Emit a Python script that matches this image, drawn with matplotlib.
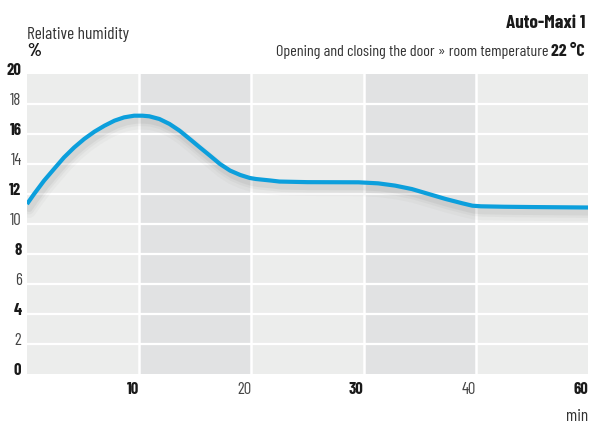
import numpy as np
import matplotlib
matplotlib.use("Agg")
import matplotlib.pyplot as plt
import matplotlib.transforms as mtransforms

# ---- data ----
minutes = [0, 0.63, 1.52, 2.41, 3.3, 4.2, 5.1, 6.0, 6.9, 7.8, 8.66, 9.55, 10.3,
           10.9, 11.8, 12.7, 13.6, 14.5, 15.4, 16.3, 17.2, 18.1, 19.0, 19.85,
           20.4, 21.7, 22.5, 25, 29.55, 31.3, 32.8, 34.3, 35.8, 37.3, 38.8,
           39.7, 40.9, 45, 50, 60]
humidity = [11.33, 12.0, 12.89, 13.67, 14.44, 15.1, 15.67, 16.15, 16.55, 16.89,
            17.11, 17.22, 17.22, 17.18, 17.0, 16.67, 16.22, 15.67, 15.11, 14.56,
            14.0, 13.56, 13.27, 13.07, 13.0, 12.9, 12.83, 12.79, 12.78, 12.71,
            12.56, 12.33, 12.0, 11.67, 11.38, 11.22, 11.18, 11.15, 11.13, 11.1]
x_tick_minutes = [0, 10, 20, 30, 40, 60]
x_tick_labels = ["", "10", "20", "30", "40", "60"]
x_tick_bold = [False, True, False, True, False, True]
y_ticks = [0, 2, 4, 6, 8, 10, 12, 14, 16, 18, 20]
y_tick_bold = [True, False, True, False, True, False, True, False, True, False, True]
shaded_bands = [(10, 20), (30, 40)]

FONT = ["Barlow Condensed", "DejaVu Sans"]
plt.rcParams["font.family"] = FONT
BOLD = "bold"

positions = list(range(len(x_tick_minutes)))
def xpos(m):
    return np.interp(m, x_tick_minutes, positions)

W, H = 590, 427
fig = plt.figure(figsize=(W / 100, H / 100), dpi=100)
ax = fig.add_axes([27 / W, 1 - 375 / H, (588 - 27) / W, 300 / H])
ax.set_facecolor("#ecedec")
for a, b in shaded_bands:
    ax.axvspan(xpos(a), xpos(b), color="#e1e2e3", lw=0, zorder=0)

ax.set_xlim(0, positions[-1])
ax.set_ylim(0, 20)
for s in ax.spines.values():
    s.set_visible(False)

for y in y_ticks[1:-1]:
    ax.axhline(y, color="white", lw=1.6, zorder=1)
for m in x_tick_minutes[1:-1]:
    ax.axvline(xpos(m), color="white", lw=1.8, zorder=1)

xs = xpos(minutes)
# soft shadow under the curve
for dy, lw, al in [(-5, 10, 0.035), (-4, 7, 0.05), (-3.5, 4.5, 0.07)]:
    tr = mtransforms.offset_copy(ax.transData, fig=fig, x=1.5, y=dy, units="points")
    ax.plot(xs, humidity, color="#555555", lw=lw, alpha=al, transform=tr,
            solid_capstyle="round", solid_joinstyle="round", zorder=2)
ax.plot(xs, humidity, color="#0c9fdc", lw=3.0, solid_capstyle="butt",
        solid_joinstyle="round", zorder=3)

# ticks
ax.set_yticks(y_ticks)
ax.set_yticklabels([str(v) for v in y_ticks])
for lab, b in zip(ax.get_yticklabels(), y_tick_bold):
    lab.set_fontweight(BOLD if b else "normal")
    lab.set_va("baseline")
    lab.set_color("#1a1a1a" if b else "#444444")
    lab.set_transform(lab.get_transform() + mtransforms.ScaledTranslation(0, 2 / 100, fig.dpi_scale_trans))
ax.tick_params(axis="y", length=0, pad=4, labelsize=12)

ax.set_xticks(positions)
ax.set_xticklabels(x_tick_labels)
for lab, b in zip(ax.get_xticklabels(), x_tick_bold):
    lab.set_fontweight(BOLD if b else "normal")
    lab.set_ha("right")
    lab.set_color("#1a1a1a" if b else "#444444")
    lab.set_transform(lab.get_transform() + mtransforms.ScaledTranslation(-2 / 100, 0, fig.dpi_scale_trans))
ax.tick_params(axis="x", length=0, pad=5, labelsize=12)

# texts
fig.text(27 / W, 1 - 39 / H, "Relative humidity", fontsize=12.5, color="#333333",
         ha="left", va="baseline")
fig.text(27 / W, 1 - 56 / H, "%", fontsize=13, fontweight=BOLD, color="#1a1a1a",
         ha="left", va="baseline")
fig.text(585 / W, 1 - 28 / H, "Auto-Maxi 1", fontsize=13.8, fontweight=BOLD,
         color="#1a1a1a", ha="right", va="baseline")
t_bold = fig.text(585 / W, 1 - 56 / H, "22 °C", fontsize=12.8, fontweight=BOLD,
                  color="#1a1a1a", ha="right", va="baseline")
fig.canvas.draw()
bb = t_bold.get_window_extent()
fig.text(bb.x0 / fig.bbox.width, 1 - 56 / H,
         "Opening and closing the door » room temperature ", fontsize=11.6,
         color="#333333", ha="right", va="baseline")
fig.text(588 / W, 1 - 421 / H, "min", fontsize=12.5, color="#333333",
         ha="right", va="baseline")

fig.savefig("out.png", dpi=100)
